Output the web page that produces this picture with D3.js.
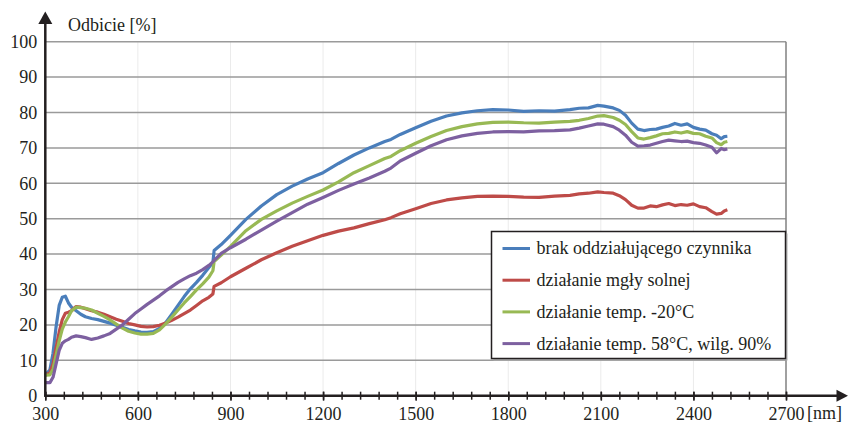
<!DOCTYPE html>
<html>
<head>
<meta charset="utf-8">
<script src="https://cdn.jsdelivr.net/npm/d3@7"></script>
<style>
  body { margin: 0; background: #fff; }
</style>
</head>
<body>
<div id="chart"></div>
<script>
// wavelengths [nm] shared by all four series
var wavelengths = [300, 315, 325, 335, 345, 355, 365, 375, 385, 400, 415, 430, 450, 470, 490, 510, 530, 550, 570, 590,
  610, 630, 650, 670, 690, 710, 730, 750, 770, 790, 810, 830, 843, 847, 870, 900, 950, 1000, 1050, 1100,
  1150, 1200, 1250, 1300, 1350, 1400, 1420, 1450, 1500, 1550, 1600, 1650, 1700, 1750, 1800, 1850, 1900, 1950, 2000, 2030,
  2060, 2090, 2110, 2140, 2160, 2180, 2200, 2220, 2240, 2260, 2280, 2300, 2320, 2340, 2360, 2380, 2400, 2420, 2440, 2460,
  2475, 2490, 2500, 2510];

// reflectance [%]
var brakValues = [5.8, 7.3, 12, 19.5, 25.5, 27.8, 28.1, 26.2, 25.0, 24.0, 23.0, 22.3, 21.8, 21.5, 21.0, 20.5, 19.9, 19.3, 18.7, 18.3,
  18.0, 17.9, 18.1, 19.0, 20.6, 23.0, 25.5, 28.0, 30.2, 32.0, 34.0, 36.2, 37.6, 41.0, 42.7, 45.3, 49.8, 53.6, 56.8, 59.2,
  61.2, 63.0, 65.6, 68.0, 70.0, 71.8, 72.4, 73.8, 75.7, 77.5, 79.0, 79.9, 80.5, 80.8, 80.7, 80.3, 80.5, 80.4, 80.8, 81.2,
  81.3, 82.0, 81.8, 81.3, 80.6, 79.2, 77.0, 75.3, 74.9, 75.2, 75.3, 75.8, 76.2, 76.9, 76.4, 76.8, 75.8, 75.3, 75.0, 74.0,
  73.6, 72.6, 73.2, 73.3];
var mglaValues = [5.8, 6.5, 9, 13.5, 18, 21.5, 23.3, 23.6, 24.0, 25.2, 25.0, 24.6, 24.0, 23.6, 23.0, 22.3, 21.6, 21.0, 20.4, 20.0,
  19.6, 19.4, 19.5, 19.9, 20.5, 21.3, 22.2, 23.2, 24.2, 25.5, 26.8, 27.8, 28.7, 30.9, 31.9, 33.6, 36.0, 38.4, 40.4, 42.2,
  43.8, 45.3, 46.5, 47.4, 48.6, 49.7, 50.3, 51.4, 52.8, 54.3, 55.3, 55.9, 56.3, 56.4, 56.3, 56.1, 56.0, 56.4, 56.6, 57.0,
  57.2, 57.6, 57.4, 57.2, 56.5, 55.4, 53.8, 53.0, 53.0, 53.6, 53.4, 53.9, 54.3, 53.7, 54.0, 53.8, 54.2, 53.4, 53.1, 52.0,
  51.3, 51.5, 52.2, 52.5];
var minus20Values = [5.8, 5.9, 7.5, 11.5, 15.5, 18.8, 20.8, 22.3, 24.0, 25.0, 24.9, 24.7, 24.2, 23.3, 22.4, 21.4, 20.2, 19.1, 18.2, 17.7,
  17.4, 17.4, 17.6, 18.6, 20.3, 22.2, 24.2, 26.2, 28.0, 29.9, 31.6, 33.5, 35.3, 37.9, 39.7, 42.2, 46.6, 49.8, 52.2, 54.4,
  56.3, 58.1, 60.4, 63.0, 65.0, 67.0, 67.6, 69.2, 71.3, 73.2, 74.9, 76.0, 76.8, 77.2, 77.3, 77.1, 77.0, 77.3, 77.5, 77.8,
  78.3, 79.0, 79.1, 78.6, 77.8, 76.6, 74.6, 72.8, 72.5, 72.9, 73.4, 74.0, 74.1, 74.5, 74.2, 74.6, 74.1, 74.0, 73.3, 72.8,
  71.5, 70.9, 71.6, 71.8];
var plus58Values = [3.7, 3.7, 5.2, 9.0, 12.8, 14.8, 15.5, 15.9, 16.5, 16.9, 16.7, 16.4, 15.9, 16.3, 16.9, 17.6, 18.8, 20.0, 21.6, 23.2,
  24.5, 25.8, 27.0, 28.2, 29.6, 30.8, 32.0, 33.0, 33.9, 34.6, 35.6, 36.8, 37.8, 38.2, 40.2, 41.8, 44.2, 46.8, 49.3, 51.7,
  54.1, 56.0, 58.0, 59.8, 61.5, 63.4, 64.3, 66.3, 68.5, 70.6, 72.3, 73.4, 74.1, 74.5, 74.6, 74.5, 74.8, 74.9, 75.1, 75.6,
  76.2, 76.8, 76.7, 76.0, 75.0, 73.6, 71.6, 70.5, 70.6, 70.8, 71.3, 71.8, 72.2, 72.0, 71.8, 71.9, 71.5, 71.3, 70.8, 70.2,
  68.6, 69.8, 69.5, 69.7];

var seriesNames = ["brak oddziałującego czynnika", "działanie mgły solnej", "działanie temp. -20°C", "działanie temp. 58°C, wilg. 90%"];
var seriesColors = ["#4a7ebb", "#be4b48", "#98b954", "#7d60a0"];
var seriesValues = [brakValues, mglaValues, minus20Values, plus58Values];

var xTicks = [300, 600, 900, 1200, 1500, 1800, 2100, 2400, 2700];
var yTicks = [0, 10, 20, 30, 40, 50, 60, 70, 80, 90, 100];

var serif = "'Liberation Serif', 'Times New Roman', Times, 'DejaVu Serif', serif";

// svg size and plot box
var svgWidth = 852;
var svgHeight = 424;
var plotLeft = 45.3, plotRight = 786, plotTop = 41.7, plotBottom = 395.7;

var svg = d3.select("#chart")
    .append("svg")
    .attr("width", svgWidth)
    .attr("height", svgHeight)
    .attr("font-family", serif);

var xScale = d3.scaleLinear().domain([300, 2700]).range([plotLeft, plotRight]);
var yScale = d3.scaleLinear().domain([0, 100]).range([plotBottom, plotTop]);

// faint vertical grid
svg.append("g")
    .selectAll("line")
    .data(xTicks.slice(1, -1))
    .enter()
    .append("line")
    .attr("x1", d => xScale(d)).attr("x2", d => xScale(d))
    .attr("y1", yScale(100)).attr("y2", yScale(0))
    .attr("stroke", "#ebebeb")
    .attr("stroke-width", 1);

// horizontal grid
svg.append("g")
    .selectAll("line")
    .data(yTicks.slice(1))
    .enter()
    .append("line")
    .attr("x1", plotLeft).attr("x2", plotRight)
    .attr("y1", d => yScale(d)).attr("y2", d => yScale(d))
    .attr("stroke", "#9a9a9a")
    .attr("stroke-width", 1.5);

// right border of plot
svg.append("line")
    .attr("x1", xScale(2700)).attr("x2", xScale(2700))
    .attr("y1", yScale(100)).attr("y2", yScale(0))
    .attr("stroke", "#808080")
    .attr("stroke-width", 1.5);

// curves
var line = d3.line()
    .x((d, i) => xScale(wavelengths[i]))
    .y(d => yScale(d));

seriesValues.forEach(function(vals, i) {
  svg.append("path")
      .datum(vals)
      .attr("fill", "none")
      .attr("stroke", seriesColors[i])
      .attr("stroke-width", 3.2)
      .attr("stroke-linejoin", "round")
      .attr("d", line);
});

// x axis: minor and major ticks crossing the axis line
var minorTicks = d3.range(300, 2701, 60);
var xMinor = svg.append("g")
    .attr("transform", `translate(0, ${plotBottom})`)
    .call(d3.axisBottom(xScale).tickValues(minorTicks).tickFormat("").tickSize(4));
xMinor.select(".domain").remove();

var xMajor = svg.append("g")
    .attr("transform", `translate(0, ${plotBottom})`)
    .call(d3.axisBottom(xScale).tickValues(xTicks).tickFormat(d3.format("d")).tickSize(5).tickPadding(7));
xMajor.select(".domain").remove();

svg.selectAll(".tick line")
    .attr("y1", -4)
    .attr("stroke", "#231f20")
    .attr("stroke-width", 1.5);

// y axis labels
var yAxis = svg.append("g")
    .attr("transform", `translate(${plotLeft}, 0)`)
    .call(d3.axisLeft(yScale).tickValues(yTicks).tickSize(0).tickPadding(8));
yAxis.select(".domain").remove();

// axis lines with arrows
svg.append("line")
    .attr("x1", plotLeft).attr("x2", plotLeft)
    .attr("y1", plotBottom + 1).attr("y2", 22)
    .attr("stroke", "#231f20").attr("stroke-width", 2.5);
svg.append("path")
    .attr("d", `M${plotLeft},11.5 L${plotLeft - 7},24 L${plotLeft + 7},24 Z`)
    .attr("fill", "#231f20");
svg.append("line")
    .attr("x1", plotLeft - 1).attr("x2", 838)
    .attr("y1", plotBottom).attr("y2", plotBottom)
    .attr("stroke", "#231f20").attr("stroke-width", 2.5);
svg.append("path")
    .attr("d", `M848,${plotBottom} L836.5,${plotBottom - 6} L836.5,${plotBottom + 6} Z`)
    .attr("fill", "#231f20");

// axis titles
svg.append("text")
    .attr("x", 68)
    .attr("y", 30.5)
    .text("Odbicie [%]");

svg.append("text")
    .attr("x", 807)
    .attr("y", 419)
    .text("[nm]");

// legend
var legend = svg.append("g").attr("transform", "translate(491.5, 231.5)");
legend.append("rect")
    .attr("x", 2).attr("y", 2)
    .attr("width", 294).attr("height", 127)
    .attr("fill", "#b0b0b0");
legend.append("rect")
    .attr("width", 294).attr("height", 127)
    .attr("fill", "#fff")
    .attr("stroke", "#231f20")
    .attr("stroke-width", 1.5);

var rows = legend.selectAll("g.row")
    .data(seriesNames)
    .enter()
    .append("g")
    .attr("transform", (d, i) => `translate(0, ${17 + i * 31.7})`);
rows.append("line")
    .attr("x1", 11).attr("x2", 38.5)
    .attr("stroke", (d, i) => seriesColors[i])
    .attr("stroke-width", 3);
rows.append("text")
    .attr("x", 45)
    .attr("dy", "0.33em")
    .text(d => d);

// all text serif, dark
svg.selectAll("text")
    .style("font-family", serif)
    .style("font-size", "18px")
    .attr("fill", "#231f20");
</script>
</body>
</html>
